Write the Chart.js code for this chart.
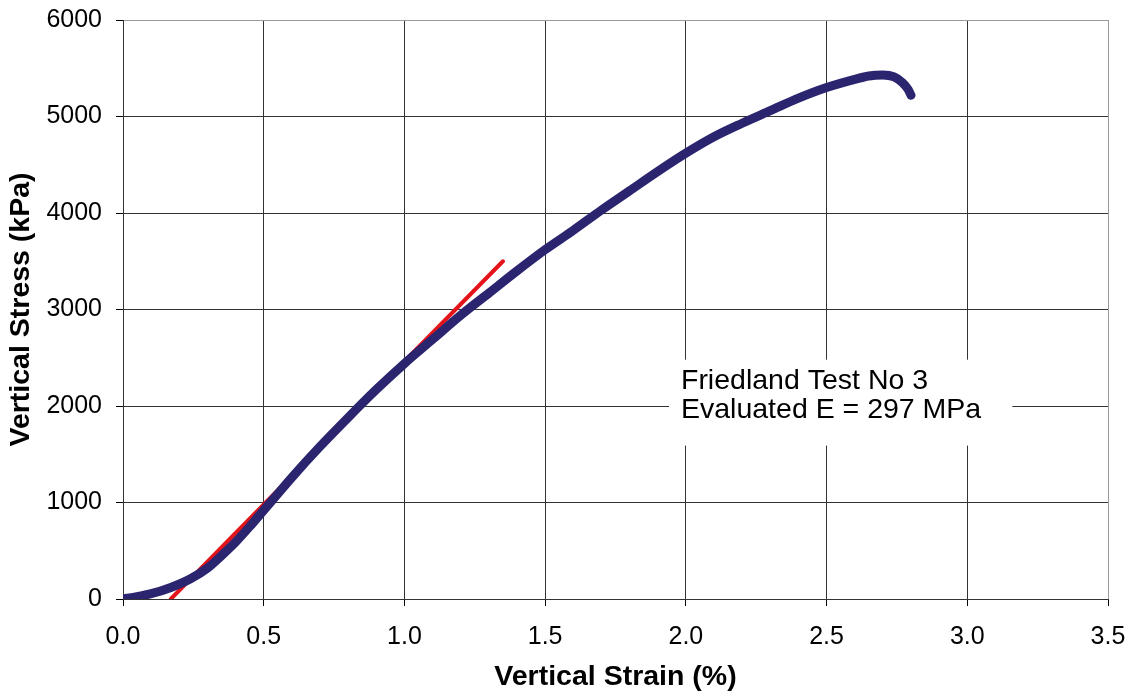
<!DOCTYPE html>
<html>
<head>
<meta charset="utf-8">
<script src="https://cdn.jsdelivr.net/npm/chart.js@4/dist/chart.umd.min.js"></script>
<style>
  html, body { margin: 0; padding: 0; background: #fff; }
  #wrap { width: 1135px; height: 698px; }
</style>
</head>
<body>
<div id="wrap"><canvas id="stressChart" width="1135" height="698"></canvas></div>
<script>
// measured curve (strain %, stress kPa)
const strain = [0.00, 0.05, 0.10, 0.17, 0.24, 0.30, 0.35, 0.40, 0.45, 0.50, 0.55, 0.60, 0.70, 0.80, 0.90, 1.00, 1.10, 1.20, 1.30, 1.40, 1.50, 1.60, 1.70, 1.80, 1.90, 2.00, 2.10, 2.20, 2.30, 2.40, 2.50, 2.60, 2.65, 2.70, 2.74, 2.77, 2.79, 2.80];
const stress = [0, 25, 55, 120, 210, 320, 450, 590, 750, 920, 1090, 1260, 1580, 1880, 2170, 2440, 2690, 2940, 3170, 3400, 3620, 3820, 4030, 4230, 4430, 4620, 4790, 4930, 5060, 5190, 5300, 5385, 5420, 5430, 5410, 5350, 5280, 5220];

// fitted modulus line
const fitStrain = [0.17, 1.35];
const fitStress = [0, 3500];

const noteLines = ["Friedland Test No 3", "Evaluated E = 297 MPa"];

const xTitle = "Vertical Strain (%)";
const yTitle = "Vertical Stress (kPa)";

const font = "'Liberation Sans', Arial, sans-serif";

// white text box with the test label, drawn over the grid
const notePlugin = {
  id: "note",
  beforeDatasetsDraw(chart) {
    const ctx = chart.ctx;
    const xs = chart.scales.x, ys = chart.scales.y;
    const left = xs.getPixelForValue(1.94);
    const right = xs.getPixelForValue(3.16);
    const top = ys.getPixelForValue(2480);
    const bottom = ys.getPixelForValue(1590);
    ctx.save();
    ctx.fillStyle = "#fff";
    ctx.fillRect(left, top, right - left, bottom - top);
    ctx.fillStyle = "#000";
    ctx.font = "28.5px " + font;
    ctx.textBaseline = "alphabetic";
    ctx.fillText(noteLines[0], left + 12, top + 29);
    ctx.fillText(noteLines[1], left + 12, top + 58);
    ctx.restore();
  }
};

function gridColor(c) {
  // outer top / right edge is a lighter grey
  if (c.tick && (c.tick.value === 6000 || c.tick.value === 3.5)) return "#9a9a9a";
  return "#333";
}

const ctx = document.getElementById("stressChart").getContext("2d");
new Chart(ctx, {
  type: "line",
  data: {
    datasets: [
      {
        data: strain.map((s, i) => ({ x: s, y: stress[i] })),
        borderColor: "#2b2570",
        borderWidth: 9,
        pointRadius: 0,
        cubicInterpolationMode: "monotone",
        borderCapStyle: "round",
        borderJoinStyle: "round",
        fill: false
      },
      {
        data: fitStrain.map((s, i) => ({ x: s, y: fitStress[i] })),
        borderColor: "#e3151b",
        borderWidth: 4,
        pointRadius: 0,
        borderCapStyle: "round",
        fill: false
      }
    ]
  },
  options: {
    responsive: false,
    animation: false,
    events: [],
    layout: { padding: { top: 20, right: 27, left: 0, bottom: 0 } },
    plugins: {
      legend: { display: false },
      tooltip: { enabled: false }
    },
    scales: {
      x: {
        type: "linear",
        min: 0,
        max: 3.5,
        afterFit: s => { s.height = 99; s.paddingRight = 0; s.paddingLeft = 0; },
        ticks: {
          stepSize: 0.5,
          color: "#000",
          padding: 16,
          font: { family: font, size: 25 },
          callback: v => v.toFixed(1)
        },
        grid: { color: gridColor, tickColor: "#000", tickLength: 7 },
        border: { color: "#333", width: 1 },
        title: {
          display: true,
          text: xTitle,
          color: "#000",
          padding: { top: 4, bottom: 4 },
          font: { family: font, size: 28.5, weight: "bold" }
        }
      },
      y: {
        type: "linear",
        min: 0,
        max: 6000,
        afterFit: s => { s.width = 123; s.paddingTop = 0; s.paddingBottom = 0; },
        ticks: {
          stepSize: 1000,
          color: "#000",
          padding: 14,
          font: { family: font, size: 25 },
          callback: v => String(v)
        },
        grid: { color: gridColor, tickColor: "#000", tickLength: 7 },
        border: { color: "#333", width: 1 },
        title: {
          display: true,
          text: yTitle,
          color: "#000",
          padding: { top: 4, bottom: 0 },
          font: { family: font, size: 28.5, weight: "bold" }
        }
      }
    }
  },
  plugins: [notePlugin]
});
</script>
</body>
</html>
